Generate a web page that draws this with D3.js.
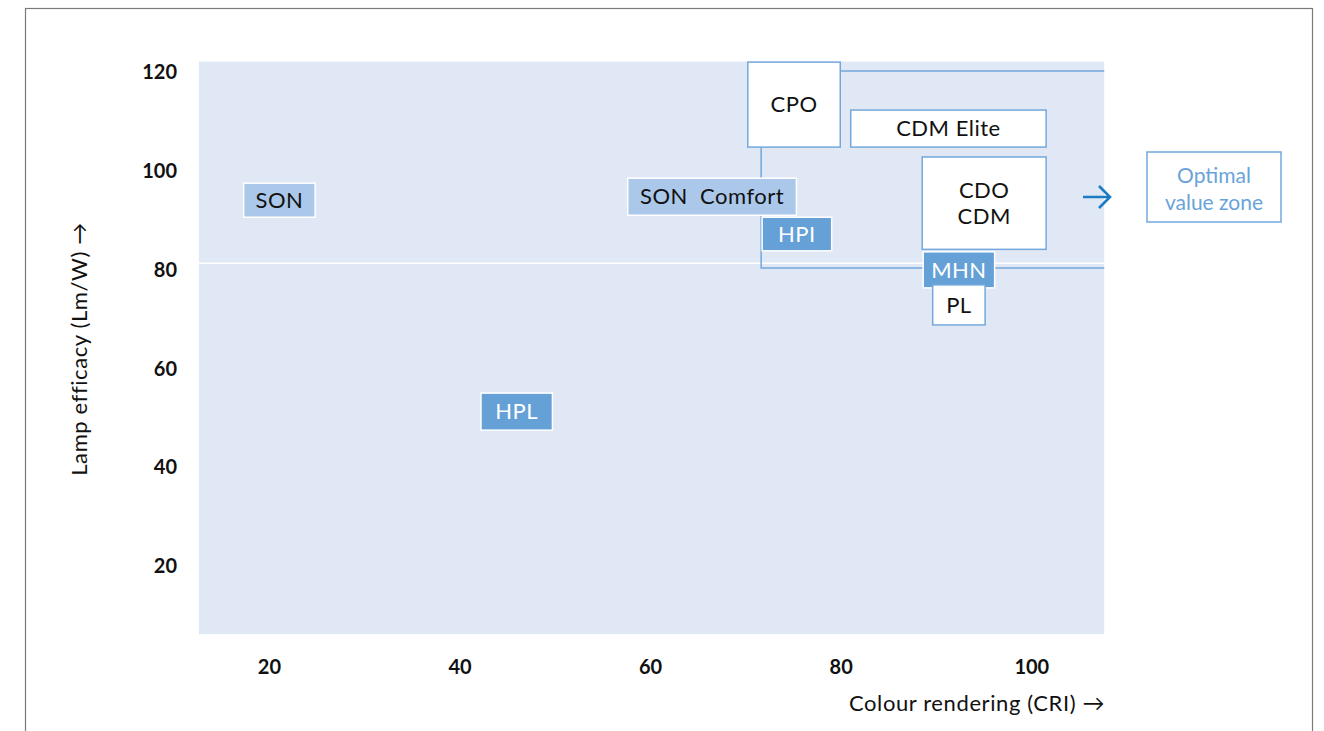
<!DOCTYPE html>
<meta charset="utf-8">
<head>
    <title>Lamp efficacy vs colour rendering</title>
    <script type="text/javascript" src="https://cdn.jsdelivr.net/npm/d3@7"></script>
    <style>
        body { margin: 0; background: white; }
        svg text { font-family: Lato, "Open Sans", sans-serif; }
    </style>
</head>
<body>
    <script>
        // chart values
        const xTicks = [20, 40, 60, 80, 100]
        const yTicks = [20, 40, 60, 80, 100, 120]
        const lampNames = ["SON", "SON  Comfort", "HPI", "CPO", "CDM Elite", "CDO\nCDM", "MHN", "PL", "HPL"]
        const lampGroup = ["light", "light", "mid", "white", "white", "white", "mid", "white", "mid"]
        const criMin = [17.3, 57.6, 71.7, 70.2, 81.0, 88.5, 88.6, 89.6, 42.2]
        const criMax = [24.8, 75.3, 79.0, 79.9, 101.5, 101.5, 96.1, 95.1, 49.7]
        const effMin = [90.6, 91.0, 83.8, 104.8, 104.8, 84.1, 76.3, 68.8, 47.5]
        const effMax = [97.5, 98.5, 90.6, 122.0, 112.3, 102.8, 83.6, 76.9, 55.0]
        const zoneCri = [71.6, 107.6]
        const zoneEff = [80.3, 120.2]
        const thresholdEff = 81.3

        w = 1324
        h = 731

        let svg = d3.select("body").append("svg")
            .attr("width", w)
            .attr("height", h)

        // page frame
        svg.append("rect")
            .attr("x", 25.5).attr("y", 8.5)
            .attr("width", 1287).attr("height", 800)
            .attr("fill", "none")
            .attr("stroke", "#7a7a7a")
            .attr("stroke-width", 1.2)

        // scales, fitted to the tick label positions
        var x = d3.scaleLinear().domain([20, 100]).range([269.4, 1031.8])
        var y = d3.scaleLinear().domain([20, 120]).range([566, 72])

        const domX = [12.6, 107.6]
        const domY = [6.2, 122.1]

        // plot background
        svg.append("rect")
            .attr("x", x(domX[0])).attr("y", y(domY[1]))
            .attr("width", x(domX[1]) - x(domX[0]))
            .attr("height", y(domY[0]) - y(domY[1]))
            .attr("fill", "#dfe8f4")

        // white 80 lm/W line
        svg.append("line")
            .attr("x1", x(domX[0])).attr("x2", x(domX[1]))
            .attr("y1", y(thresholdEff)).attr("y2", y(thresholdEff))
            .attr("stroke", "white")
            .attr("stroke-width", 1.5)

        // optimal zone outline
        svg.append("path")
            .attr("d", d3.line()([
                [x(zoneCri[1]), y(zoneEff[1])],
                [x(zoneCri[0]), y(zoneEff[1])],
                [x(zoneCri[0]), y(zoneEff[0])],
                [x(zoneCri[1]), y(zoneEff[0])]
            ]))
            .attr("fill", "none")
            .attr("stroke", "#74a8dc")
            .attr("stroke-width", 1.5)

        // axis tick labels
        svg.append("g").selectAll("text")
            .data(yTicks).enter().append("text")
            .attr("x", 177)
            .attr("y", d => y(d))
            .attr("dy", "0.36em")
            .attr("text-anchor", "end")
            .attr("font-weight", "bold")
            .attr("font-size", 20)
            .attr("fill", "#111")
            .text(d => d)

        svg.append("g").selectAll("text")
            .data(xTicks).enter().append("text")
            .attr("x", d => x(d))
            .attr("y", 667)
            .attr("dy", "0.36em")
            .attr("text-anchor", "middle")
            .attr("font-weight", "bold")
            .attr("font-size", 20)
            .attr("fill", "#111")
            .text(d => d)

        // axis titles
        svg.append("text")
            .attr("x", 1105)
            .attr("y", 711)
            .attr("text-anchor", "end")
            .attr("font-size", 22)
            .attr("letter-spacing", 0.6)
            .attr("fill", "#111")
            .text("Colour rendering (CRI) \u2192")

        svg.append("text")
            .attr("transform", "translate(87,349) rotate(-90)")
            .attr("text-anchor", "middle")
            .attr("font-size", 22)
            .attr("letter-spacing", 0.6)
            .attr("fill", "#111")
            .text("Lamp efficacy (Lm/W) \u2192")

        // lamp boxes
        const fills = {light: "#abc7e9", mid: "#65a1d7", white: "white"}
        const strokes = {light: "white", mid: "white", white: "#74a8dc"}
        const inks = {light: "#111", mid: "white", white: "#111"}

        let lamps = lampNames.map((n, i) => ({
            name: n, group: lampGroup[i],
            x0: criMin[i], x1: criMax[i], y0: effMin[i], y1: effMax[i]
        }))

        let boxes = svg.append("g").selectAll("g")
            .data(lamps).enter().append("g")

        boxes.append("rect")
            .attr("x", d => x(d.x0))
            .attr("y", d => y(d.y1))
            .attr("width", d => x(d.x1) - x(d.x0))
            .attr("height", d => y(d.y0) - y(d.y1))
            .attr("fill", d => fills[d.group])
            .attr("stroke", d => strokes[d.group])
            .attr("stroke-width", 1.5)

        boxes.each(function (d) {
            let lines = d.name.split("\n")
            let cx = (x(d.x0) + x(d.x1)) / 2
            let cy = (y(d.y0) + y(d.y1)) / 2
            lines.forEach((t, k) => {
                d3.select(this).append("text")
                    .attr("x", cx)
                    .attr("y", cy + (k - (lines.length - 1) / 2) * 26)
                    .attr("dy", "0.35em")
                    .attr("text-anchor", "middle")
                    .attr("font-size", 22)
                    .attr("letter-spacing", 0.5)
                    .attr("fill", inks[d.group])
                    .style("white-space", "pre")
                    .text(t)
            })
        })

        // arrow and zone label
        svg.append("path")
            .attr("d", "M1083,197 L1109,197 M1099,186 L1110,197 L1099,208")
            .attr("fill", "none")
            .attr("stroke", "#1b7bc3")
            .attr("stroke-width", 2.6)

        svg.append("rect")
            .attr("x", 1147).attr("y", 152)
            .attr("width", 134).attr("height", 70)
            .attr("fill", "white")
            .attr("stroke", "#74a8dc")
            .attr("stroke-width", 1.5)

        svg.append("text")
            .attr("x", 1214).attr("y", 175)
            .attr("dy", "0.36em")
            .attr("text-anchor", "middle")
            .attr("font-size", 21)
            .attr("fill", "#6aa3da")
            .text("Optimal")
        svg.append("text")
            .attr("x", 1214).attr("y", 202)
            .attr("dy", "0.36em")
            .attr("text-anchor", "middle")
            .attr("font-size", 21)
            .attr("fill", "#6aa3da")
            .text("value zone")
    </script>
</body>
</html>
